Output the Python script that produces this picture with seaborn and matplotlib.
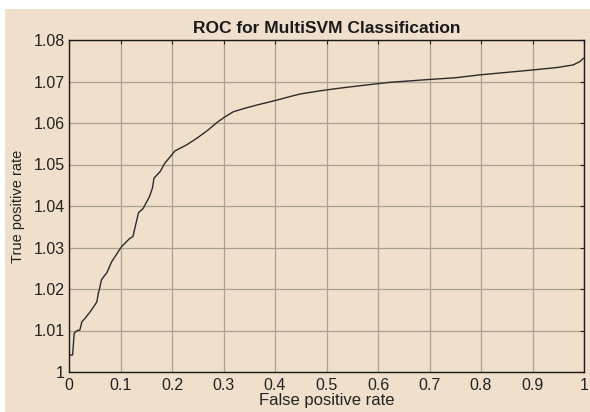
import numpy as np
import pandas as pd
import seaborn as sns
import matplotlib.pyplot as plt
from matplotlib.patches import Rectangle
from matplotlib.ticker import FuncFormatter

# ROC curve points
fpr = [0.0, 0.002, 0.007, 0.010, 0.016, 0.021, 0.025, 0.031, 0.041, 0.050, 0.054,
       0.057, 0.059, 0.063, 0.070, 0.073, 0.083, 0.102, 0.118, 0.124, 0.135, 0.144,
       0.156, 0.162, 0.165, 0.177, 0.186, 0.206, 0.228, 0.248, 0.270, 0.287, 0.303,
       0.319, 0.340, 0.364, 0.403, 0.430, 0.449, 0.490, 0.526, 0.580, 0.623, 0.701,
       0.750, 0.798, 0.850, 0.902, 0.950, 0.979, 0.992, 0.999]
tpr = [1.0041, 1.0041, 1.0041, 1.0093, 1.0100, 1.0101, 1.0121, 1.0129, 1.0145, 1.0161,
       1.0169, 1.0190, 1.0199, 1.0222, 1.0234, 1.0238, 1.0266, 1.0302, 1.0322, 1.0326,
       1.0384, 1.0394, 1.0422, 1.0443, 1.0467, 1.0483, 1.0503, 1.0533, 1.0547, 1.0563,
       1.0583, 1.0601, 1.0615, 1.0627, 1.0635, 1.0643, 1.0655, 1.0664, 1.0670, 1.0678,
       1.0684, 1.0692, 1.0698, 1.0705, 1.0709, 1.0716, 1.0722, 1.0728, 1.0734, 1.0740,
       1.0748, 1.0756]

x_ticks = [0, 0.1, 0.2, 0.3, 0.4, 0.5, 0.6, 0.7, 0.8, 0.9, 1]
y_ticks = [1, 1.01, 1.02, 1.03, 1.04, 1.05, 1.06, 1.07, 1.08]

roc = pd.DataFrame({'fpr': fpr, 'tpr': tpr})

bg = '#efdfcb'
sns.set_style('whitegrid', {'axes.facecolor': bg, 'grid.color': '#a39a8e',
                            'axes.edgecolor': '#1a1a1a', 'xtick.direction': 'in',
                            'ytick.direction': 'in'})
plt.rcParams['font.family'] = ['Liberation Sans', 'DejaVu Sans']

fig = plt.figure(figsize=(5.9, 4.12), dpi=100, facecolor='white')
# beige panel behind everything (small white border top/left like the screenshot)
fig.patches.append(Rectangle((5 / 590, 0), 1, 1 - 9 / 412, transform=fig.transFigure,
                             facecolor=bg, edgecolor='none', zorder=-10))
ax = fig.add_axes([69 / 590, 40 / 412, 515 / 590, 332 / 412])

sns.lineplot(data=roc, x='fpr', y='tpr', ax=ax, color='#2b2b2b', linewidth=1.0,
             estimator=None, sort=False)

ax.set_xlim(0, 1)
ax.set_ylim(1, 1.08)
ax.set_xticks(x_ticks)
ax.set_yticks(y_ticks)
ax.xaxis.set_major_formatter(FuncFormatter(lambda v, p: '%g' % v))
ax.yaxis.set_major_formatter(FuncFormatter(lambda v, p: '%g' % round(v, 2)))
ax.grid(True, color='#a8a093', linewidth=0.9)
ax.tick_params(axis='both', labelsize=11.5, colors='#222222', length=3, width=0.8,
               top=True, right=True, pad=3)
ax.tick_params(axis='x', pad=4)
for s in ax.spines.values():
    s.set_linewidth(1.0)
    s.set_color('#1a1a1a')

ax.set_title('ROC for MultiSVM Classification', fontsize=12.5, fontweight='bold',
             color='#1a1a1a', pad=5)
ax.set_xlabel('False positive rate', fontsize=12, color='#222222', labelpad=0)
ax.set_ylabel('True positive rate', fontsize=10.5, color='#222222', labelpad=6)

fig.savefig('out.png', dpi=100, facecolor='white')
